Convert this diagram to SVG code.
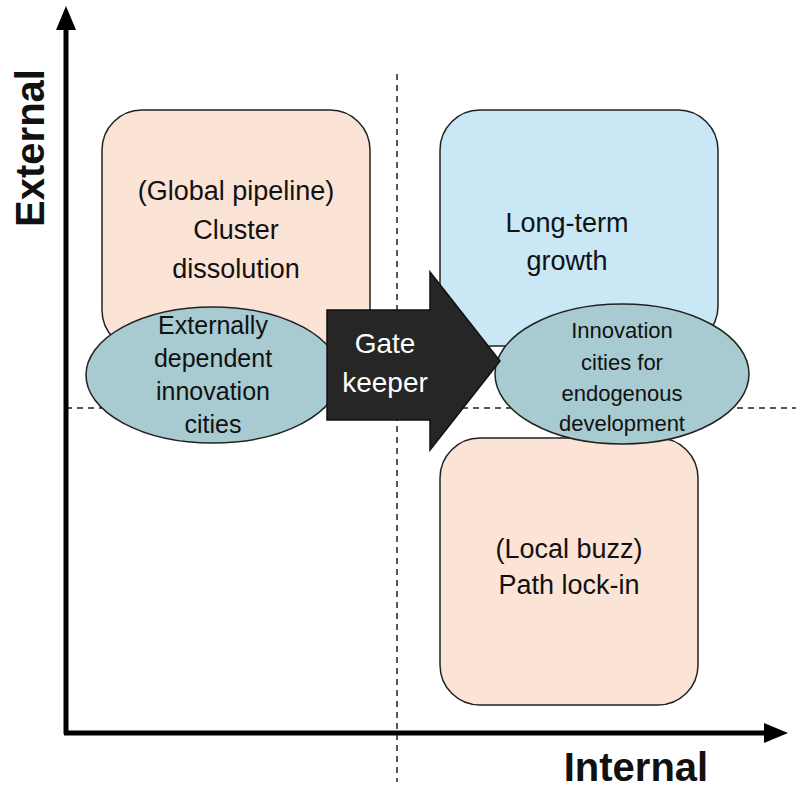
<svg xmlns="http://www.w3.org/2000/svg" width="800" height="792" viewBox="0 0 800 792">
<style>
.t{font-family:"Liberation Sans",Arial,sans-serif;fill:#111;text-anchor:middle}
.box{stroke:#222;stroke-width:1.5}
.dash{stroke:#222;stroke-width:1.5;stroke-dasharray:6,5;fill:none}
</style>
<rect width="800" height="792" fill="#fff"/>
<g id="connectors">
<line class="dash" x1="397" y1="74" x2="397" y2="782"/>
<line class="dash" x1="66" y1="408" x2="796" y2="408"/>
<line x1="66" y1="734" x2="66" y2="22" stroke="#000" stroke-width="5"/>
<polygon points="66,6 56,30 76,30" fill="#000"/>
<line x1="64" y1="733" x2="770" y2="733" stroke="#000" stroke-width="5"/>
<polygon points="788,733 764,723 764,743" fill="#000"/>
</g>
<g id="axis-labels">
<text class="t" font-weight="bold" font-size="40" transform="translate(44,148) rotate(-90)">External</text>
<text class="t" font-weight="bold" font-size="40" x="636" y="781">Internal</text>
</g>
<g id="global-pipeline">
<rect class="box" x="102" y="110" width="268" height="240" rx="40" fill="#fbe3d6"/>
<text class="t" font-size="27" x="236" y="200">(Global pipeline)</text>
<text class="t" font-size="27" x="236" y="239">Cluster</text>
<text class="t" font-size="27" x="236" y="278">dissolution</text>
</g>
<g id="long-term">
<rect class="box" x="440" y="110" width="278" height="236" rx="40" fill="#c9e7f5"/>
<text class="t" font-size="27" x="567" y="232">Long-term</text>
<text class="t" font-size="27" x="567" y="270">growth</text>
</g>
<g id="local-buzz">
<rect class="box" x="440" y="438" width="258" height="267" rx="40" fill="#fbe3d6"/>
<text class="t" font-size="27" x="569" y="558">(Local buzz)</text>
<text class="t" font-size="27" x="569" y="594">Path lock-in</text>
</g>
<g id="external-cities">
<ellipse class="box" cx="213" cy="375" rx="127" ry="68" fill="#a8cbd1"/>
<text class="t" font-size="25" x="213" y="334">Externally</text>
<text class="t" font-size="25" x="213" y="367">dependent</text>
<text class="t" font-size="25" x="213" y="400">innovation</text>
<text class="t" font-size="25" x="213" y="433">cities</text>
</g>
<g id="endogenous-cities">
<ellipse class="box" cx="622" cy="374" rx="127" ry="70" fill="#a8cbd1"/>
<text class="t" font-size="22" x="622" y="338">Innovation</text>
<text class="t" font-size="22" x="622" y="370">cities for</text>
<text class="t" font-size="22" x="622" y="401">endogenous</text>
<text class="t" font-size="22" x="622" y="431">development</text>
</g>
<g id="gatekeeper">
<polygon points="327,310 430,310 430,272 500,361 430,450 430,420 327,420" fill="#262626" stroke="#111" stroke-width="1.5"/>
<text class="t" font-size="28" x="385" y="353" style="fill:#fff">Gate</text>
<text class="t" font-size="28" x="385" y="392" style="fill:#fff">keeper</text>
</g>
</svg>
